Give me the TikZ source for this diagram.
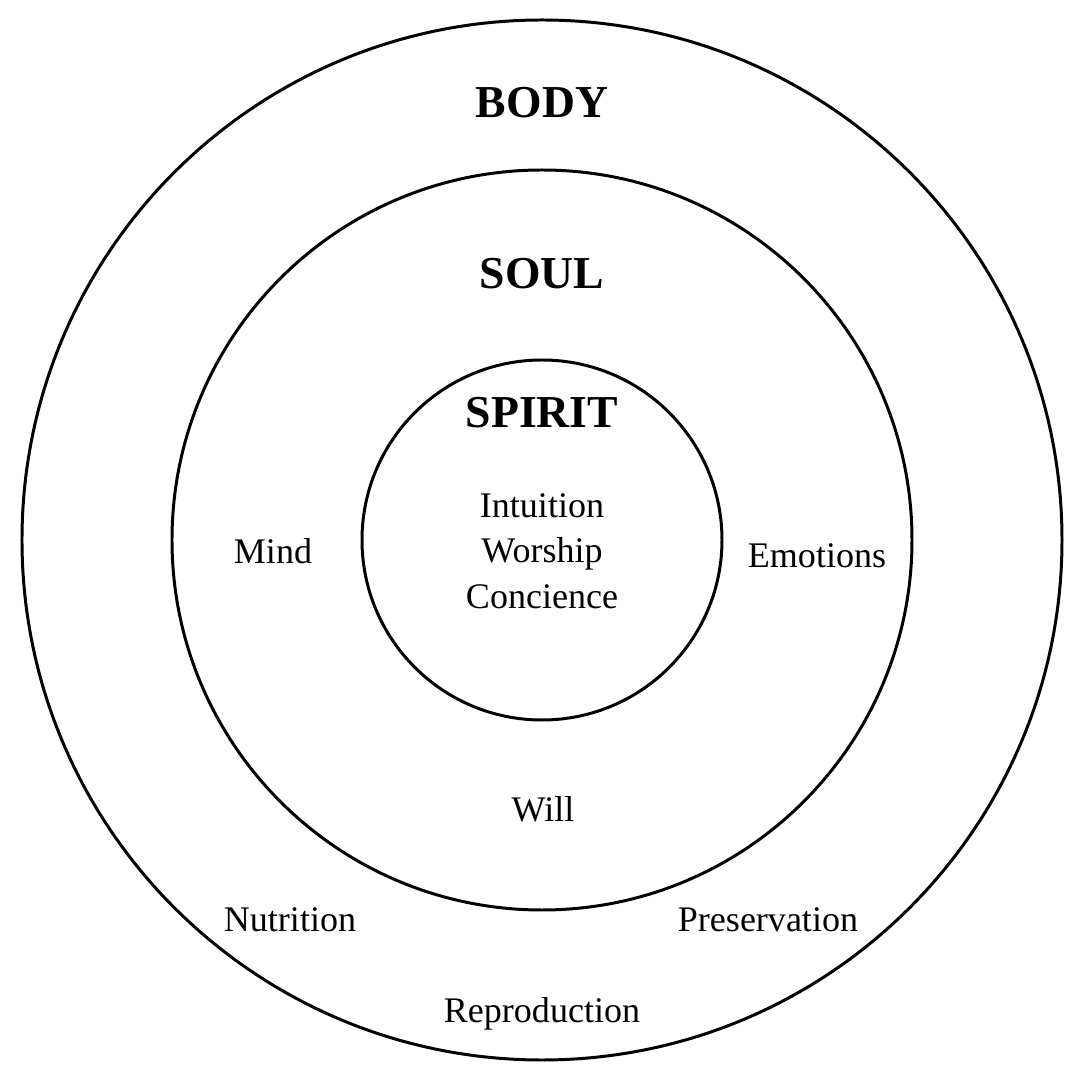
\documentclass[tikz,border=0pt]{standalone}
\usepackage{fontspec}
\setmainfont{Liberation Serif}
\usepackage{tikz}

\tikzset{
  ring/.style={line width=1.7pt},
  title/.style={anchor=base, inner sep=0pt, font=\fontsize{26}{30}\selectfont\bfseries},
  word/.style={anchor=base, inner sep=0pt, font=\fontsize{20.5}{24}\selectfont}
}

\begin{document}
\begin{tikzpicture}
\useasboundingbox (-10.84,-10.8) rectangle (10.84,10.8);

\draw[ring] (0,0) circle (10.4cm);
\draw[ring] (0,0) circle (7.4cm);
\draw[ring] (0,0) circle (3.6cm);

\node[title] (body) at (0,8.44) {BODY};
\node[title] (soul) at (0,5.02) {SOUL};
\node[title] (spirit) at (0,2.24) {SPIRIT};

\node[word] (intuition) at (0,0.44) {Intuition};
\node[word] (worship) at (0,-0.46) {Worship};
\node[word] (concience) at (0,-1.38) {Concience};

\node[word] (mind) at (-5.38,-0.48) {Mind};
\node[word] (emotions) at (5.5,-0.56) {Emotions};
\node[word] (will) at (0.02,-5.62) {Will};

\node[word] (nutrition) at (-5.04,-7.82) {Nutrition};
\node[word] (preservation) at (4.52,-7.82) {Preservation};
\node[word] (reproduction) at (0,-9.64) {Reproduction};
\end{tikzpicture}
\end{document}
